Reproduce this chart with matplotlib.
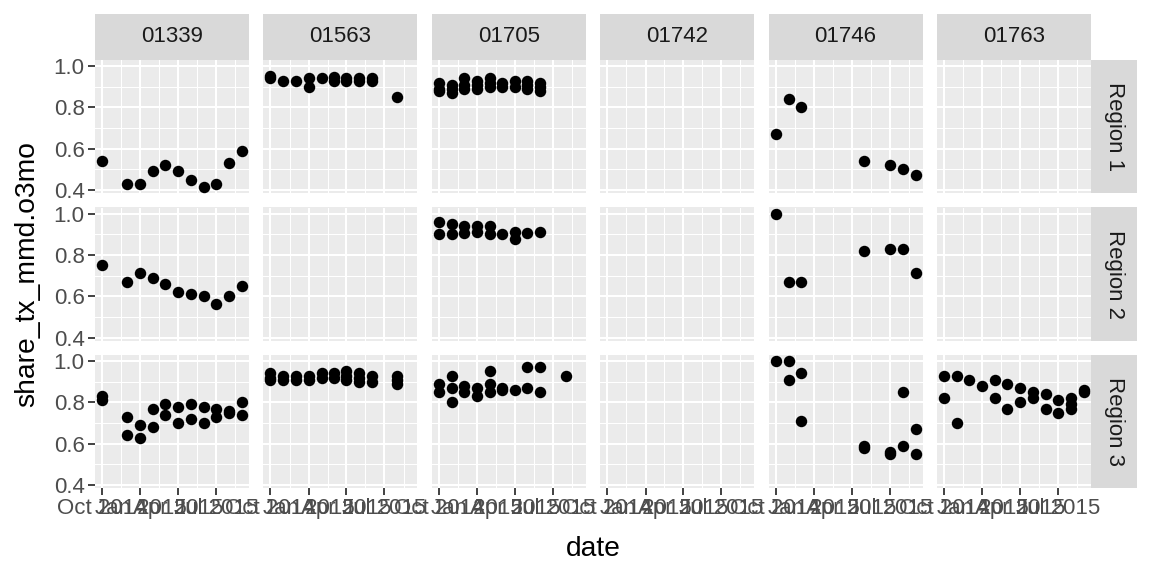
import numpy as np
import pandas as pd
import matplotlib
matplotlib.use('Agg')
import matplotlib.pyplot as plt
import matplotlib.dates as mdates

plt.rcParams['font.family'] = ['Liberation Sans', 'DejaVu Sans']

# facets
sites = ['01339', '01563', '01705', '01742', '01746', '01763']
regions = ['Region 1', 'Region 2', 'Region 3']

# one entry per month, Oct 2014 .. Sep 2015 (a month can hold several values)
months = ['2014-10-01', '2014-11-01', '2014-12-01', '2015-01-01', '2015-02-01', '2015-03-01',
          '2015-04-01', '2015-05-01', '2015-06-01', '2015-07-01', '2015-08-01', '2015-09-01']

share_01339_r1 = [[.54], [], [.43], [.43], [.49], [.52], [.49], [.45], [.415], [.43], [.53], [.59]]
share_01339_r2 = [[.75], [], [.67], [.71], [.69], [.66], [.62], [.61], [.60], [.56], [.60], [.65]]
share_01339_r3 = [[.83, .81], [], [.73, .64], [.69, .63], [.77, .68], [.79, .74], [.78, .70],
                  [.79, .72], [.78, .70], [.77, .73], [.76, .75], [.80, .74]]

share_01563_r1 = [[.95, .94], [.93], [.93], [.94, .90], [.94], [.945, .93], [.94, .93],
                  [.94, .93], [.94, .93], [], [.85], []]
share_01563_r3 = [[.94, .92, .91], [.93, .91], [.93, .91], [.93, .91], [.94, .92], [.94, .92],
                  [.95, .93, .91], [.94, .92, .90], [.93, .90], [], [.93, .91, .89], []]

share_01705_r1 = [[.92, .89, .88], [.91, .89, .87], [.94, .91, .89], [.93, .91, .89],
                  [.94, .92, .90], [.92, .90], [.93, .90], [.93, .91, .89], [.92, .90, .88],
                  [], [], []]
share_01705_r2 = [[.96, .90], [.95, .90], [.94, .905], [.94, .91], [.94, .90], [.90],
                  [.91, .875], [.905], [.91], [], [], []]
share_01705_r3 = [[.89, .85], [.93, .87, .80], [.88, .85], [.87, .83], [.95, .89, .85],
                  [.87, .86], [.86], [.97, .87], [.97, .85], [], [.93], []]

share_01746_r1 = [[.67], [.84], [.80], [], [], [], [], [.54], [], [.52], [.50], [.475]]
share_01746_r2 = [[1.0], [.67], [.67], [], [], [], [], [.82], [], [.83], [.83], [.71]]
share_01746_r3 = [[1.0], [1.0, .91], [.94, .71], [], [], [], [], [.59, .58], [],
                  [.56, .55], [.85, .59], [.67, .55]]

share_01763_r3 = [[.93, .82], [.93, .70], [.91], [.88], [.91, .82], [.89, .77], [.87, .80],
                  [.85, .82], [.84, .77], [.81, .75], [.82, .79, .77], [.86, .85]]

panels = {
    ('01339', 'Region 1'): share_01339_r1,
    ('01339', 'Region 2'): share_01339_r2,
    ('01339', 'Region 3'): share_01339_r3,
    ('01563', 'Region 1'): share_01563_r1,
    ('01563', 'Region 3'): share_01563_r3,
    ('01705', 'Region 1'): share_01705_r1,
    ('01705', 'Region 2'): share_01705_r2,
    ('01705', 'Region 3'): share_01705_r3,
    ('01746', 'Region 1'): share_01746_r1,
    ('01746', 'Region 2'): share_01746_r2,
    ('01746', 'Region 3'): share_01746_r3,
    ('01763', 'Region 3'): share_01763_r3,
}

dates = mdates.date2num(pd.to_datetime(months))

# shared scales, ggplot style 5% expansion
all_vals = [v for p in panels.values() for m in p for v in m]
ymin, ymax = min(all_vals), max(all_vals)
yr = ymax - ymin
ylim = (ymin - 0.05 * yr, ymax + 0.05 * yr)
xr = dates[-1] - dates[0]
xlim = (dates[0] - 0.05 * xr, dates[-1] + 0.05 * xr)

xmajor = mdates.date2num(pd.to_datetime(['2014-10-01', '2015-01-01', '2015-04-01', '2015-07-01']))
xminor = (xmajor[:-1] + xmajor[1:]) / 2
xminor = np.append(xminor, xmajor[-1] + (xmajor[-1] - xmajor[-2]) / 2)

W, H = 1152, 576
def box(x0, y0, w, h):
    return [x0 / W, 1 - (y0 + h) / H, w / W, h / H]

fig = plt.figure(figsize=(W / 100, H / 100), dpi=100)

left0, pw, gapx = 95, 154, 14.4
top0, ph, gapy = 60, 133, 14.5
txt = 16
bg, strip_bg = '#EBEBEB', '#D9D9D9'

for i, reg in enumerate(regions):
    for j, site in enumerate(sites):
        x0 = left0 + j * (pw + gapx)
        y0 = top0 + i * (ph + gapy)
        ax = fig.add_axes(box(x0, y0, pw, ph))
        ax.set_facecolor(bg)
        for s in ax.spines.values():
            s.set_visible(False)
        ax.set_xlim(xlim)
        ax.set_ylim(ylim)
        ax.set_xticks(xmajor)
        ax.set_xticks(xminor, minor=True)
        ax.set_yticks([0.4, 0.6, 0.8, 1.0])
        ax.set_yticks([0.5, 0.7, 0.9], minor=True)
        ax.xaxis.set_major_formatter(mdates.DateFormatter('%b %Y'))
        ax.yaxis.set_major_formatter(matplotlib.ticker.FormatStrFormatter('%.1f'))
        ax.grid(which='major', color='white', lw=1.5)
        ax.grid(which='minor', color='white', lw=0.75)
        ax.set_axisbelow(True)
        ax.tick_params(which='minor', length=0)
        ax.tick_params(which='major', length=4.9, width=1.3, color='#333333',
                       labelsize=txt, labelcolor='#4D4D4D', pad=2.5)
        if j > 0:
            ax.tick_params(axis='y', left=False, labelleft=False)
        if i < len(regions) - 1:
            ax.tick_params(axis='x', bottom=False, labelbottom=False)

        data = panels.get((site, reg))
        if data:
            xs = [d for d, m in zip(dates, data) for v in m]
            ys = [v for m in data for v in m]
            ax.scatter(xs, ys, s=68, color='black', linewidths=0, zorder=3)

        if i == 0:
            sax = fig.add_axes(box(x0, 14, pw, 46))
            sax.set_facecolor(strip_bg)
            sax.set_xticks([]); sax.set_yticks([])
            for s in sax.spines.values():
                s.set_visible(False)
            sax.text(0.5, 0.5, site, ha='center', va='center', fontsize=txt,
                     color='#1A1A1A', transform=sax.transAxes)
        if j == len(sites) - 1:
            sax = fig.add_axes(box(x0 + pw, y0, 46, ph))
            sax.set_facecolor(strip_bg)
            sax.set_xticks([]); sax.set_yticks([])
            for s in sax.spines.values():
                s.set_visible(False)
            sax.text(0.5, 0.5, reg, ha='center', va='center', fontsize=txt, rotation=-90,
                     color='#1A1A1A', transform=sax.transAxes)

right_edge = left0 + 6 * pw + 5 * gapx
fig.text(((left0 + right_edge) / 2) / W, 1 - 556 / H, 'date', ha='center', va='baseline',
         fontsize=20.3, color='black')
fig.text(27 / W, 1 - ((top0 + top0 + 3 * ph + 2 * gapy) / 2) / H, 'share_tx_mmd.o3mo',
         ha='center', va='center', rotation=90, fontsize=20.3, color='black')

fig.savefig('out.png', dpi=100)
